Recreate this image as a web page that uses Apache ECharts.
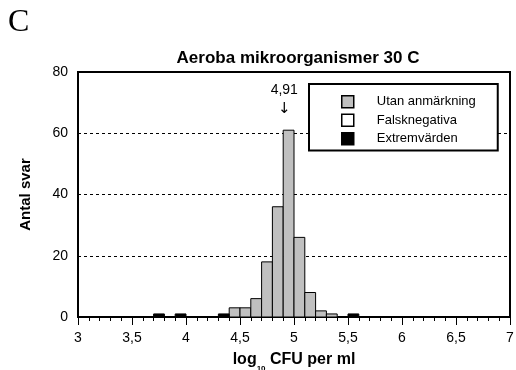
<!DOCTYPE html>
<html>
<head>
<meta charset="utf-8">
<script src="https://cdn.jsdelivr.net/npm/echarts@6/dist/echarts.min.js"></script>
<style>
  html, body { margin: 0; padding: 0; background: #fff; }
  #chart { width: 516px; height: 370px; }
</style>
</head>
<body>
<div id="chart"></div>
<script>
// histogram bins (bin start, width 0.1) and number of answers
const binWidth = 0.1;
const normalBins = [4.4, 4.5, 4.6, 4.7, 4.8, 4.9, 5.0, 5.1, 5.2, 5.3];
const normalCounts = [3, 3, 6, 18, 36, 61, 26, 8, 2, 1];
const falseNegBins = [];
const falseNegCounts = [];
const extremeBins = [3.7, 3.9, 4.3, 5.5];
const extremeCounts = [1, 1, 1, 1];
const medianValue = 4.91;
const medianLabel = '4,91';
const medianCount = 61;

const font = 'Liberation Sans, Arial, sans-serif';

function pairs(xs, ys) {
  return xs.map((x, i) => [x, ys[i]]);
}

function barRender(fill) {
  return function (params, api) {
    const x0 = api.value(0);
    const y = api.value(1);
    const p0 = api.coord([x0, y]);
    const p1 = api.coord([x0 + binWidth, 0]);
    return {
      type: 'rect',
      shape: { x: p0[0], y: p0[1], width: p1[0] - p0[0], height: p1[1] - p0[1] },
      style: { fill: fill, stroke: '#000', lineWidth: 1 }
    };
  };
}

const chart = echarts.init(document.getElementById('chart'), null, { renderer: 'canvas' });

const option = {
  animation: false,
  backgroundColor: '#fff',
  textStyle: { fontFamily: font, color: '#000' },
  title: {
    text: 'Aeroba mikroorganismer 30 C',
    left: 293,
    top: 45,
    textAlign: 'center',
    textStyle: { fontFamily: font, fontSize: 17, fontWeight: 'bold', color: '#000' }
  },
  graphic: [{
    type: 'text',
    left: 8,
    top: 7,
    style: { text: 'C', font: '32px "Liberation Serif", "Times New Roman", serif', fill: '#000' }
  }],
  legend: {
    orient: 'vertical',
    left: 309,
    top: 84,
    padding: [11, 22, 5, 32],
    itemWidth: 12,
    itemHeight: 12,
    itemGap: 5,
    borderColor: '#000',
    borderWidth: 2,
    backgroundColor: '#fff',
    selectedMode: false,
    textStyle: { fontFamily: font, fontSize: 13, color: '#000', padding: [0, 0, 0, 18] },
    data: [
      { name: 'Utan anmärkning', icon: 'rect', itemStyle: { color: '#c0c0c0', borderColor: '#000', borderWidth: 1.5 } },
      { name: 'Falsknegativa', icon: 'rect', itemStyle: { color: '#fff', borderColor: '#000', borderWidth: 1.5 } },
      { name: 'Extremvärden', icon: 'rect', itemStyle: { color: '#000', borderColor: '#000', borderWidth: 1.5 } }
    ]
  },
  grid: {
    left: 78,
    right: 6,
    top: 72,
    bottom: 53,
    outerBoundsMode: 'none',
    show: true,
    borderColor: '#000',
    borderWidth: 2,
    backgroundColor: 'transparent'
  },
  xAxis: {
    type: 'value',
    min: 3,
    max: 7,
    interval: 0.5,
    name: '{b|log}{s|10}{b| CFU per ml}',
    nameLocation: 'middle',
    nameGap: 30,
    nameTextStyle: {
      rich: {
        b: { fontFamily: font, fontSize: 16, fontWeight: 'bold', color: '#000', lineHeight: 26, verticalAlign: 'middle' },
        s: { fontFamily: font, fontSize: 8, fontWeight: 'bold', color: '#000', lineHeight: 26, verticalAlign: 'bottom' }
      }
    },
    axisLine: { onZero: false, lineStyle: { color: '#000', width: 2 } },
    axisTick: { show: true, length: 8, lineStyle: { color: '#000', width: 1 } },
    minorTick: { show: true, splitNumber: 5, length: 4, lineStyle: { color: '#000', width: 1 } },
    splitLine: { show: false },
    axisLabel: {
      margin: 14,
      fontFamily: font,
      fontSize: 14,
      color: '#000',
      formatter: v => String(v).replace('.', ',')
    }
  },
  yAxis: {
    type: 'value',
    min: 0,
    max: 80,
    interval: 20,
    name: 'Antal svar',
    nameLocation: 'middle',
    nameGap: 45,
    nameTextStyle: { fontFamily: font, fontSize: 15, fontWeight: 'bold', color: '#000' },
    axisLine: { show: true, lineStyle: { color: '#000', width: 2 } },
    axisTick: { show: false },
    splitLine: { show: true, lineStyle: { color: '#000', type: [3, 3], width: 1 } },
    axisLabel: { margin: 10, fontFamily: font, fontSize: 14, color: '#000' }
  },
  series: [
    {
      name: 'Utan anmärkning',
      type: 'custom',
      renderItem: barRender('#c0c0c0'),
      itemStyle: { color: '#c0c0c0' },
      data: pairs(normalBins, normalCounts),
      z: 3
    },
    {
      name: 'Falsknegativa',
      type: 'custom',
      renderItem: barRender('#fff'),
      itemStyle: { color: '#fff' },
      data: pairs(falseNegBins, falseNegCounts),
      z: 3
    },
    {
      name: 'Extremvärden',
      type: 'custom',
      renderItem: barRender('#000'),
      itemStyle: { color: '#000' },
      data: pairs(extremeBins, extremeCounts),
      z: 3
    },
    {
      name: 'median',
      type: 'custom',
      silent: true,
      data: [[medianValue, medianCount]],
      renderItem: function (params, api) {
        const p = api.coord([api.value(0), api.value(1)]);
        return {
          type: 'group',
          children: [
            {
              type: 'text',
              x: p[0], y: p[1] - 40,
              style: { text: medianLabel, font: '14px ' + font, fill: '#000', align: 'center', verticalAlign: 'middle' }
            },
            {
              type: 'text',
              x: p[0], y: p[1] - 21,
              style: { text: '↓', font: '15px "DejaVu Sans", sans-serif', fill: '#000', align: 'center', verticalAlign: 'middle' }
            }
          ]
        };
      },
      z: 4
    }
  ]
};

chart.setOption(option);
</script>
</body>
</html>
